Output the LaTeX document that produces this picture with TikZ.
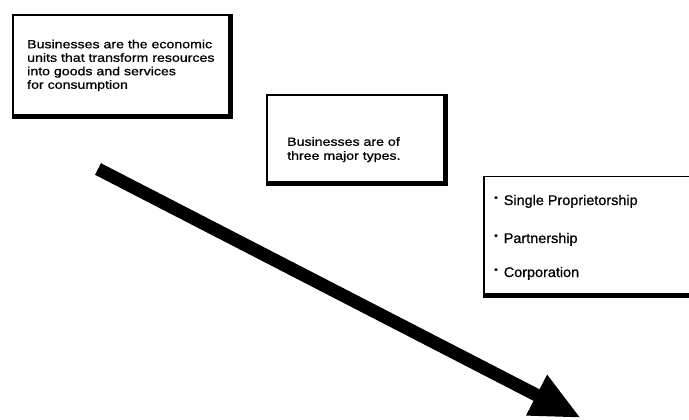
\documentclass[tikz,border=0pt]{standalone}
\usepackage{fontspec}
\setmainfont{Liberation Sans}
\newfontfamily\boxfont[FakeStretch=1.2,FakeBold=0.8]{Liberation Sans}
\newfontfamily\listfont[FakeStretch=1.03,FakeBold=0.8]{Liberation Sans}
\usetikzlibrary{arrows.meta}
\begin{document}
\begin{tikzpicture}[x=1pt,y=-1pt,
  box/.style={draw=black,line width=1.6pt,fill=white,inner sep=0pt},
  shadowline/.style={draw=black,line width=4pt},
  boxtext/.style={inner sep=0pt,align=left,font=\boxfont\fontsize{11.8}{13.5}\selectfont},
  boxtextb/.style={inner sep=0pt,align=left,font=\boxfont\fontsize{11.8}{14}\selectfont},
  item/.style={inner sep=0pt,anchor=base west,font=\listfont\fontsize{14}{16}\selectfont},
  bigarrow/.style={draw=black,line width=13pt,-{Triangle[length=50pt,width=42pt]}}
]
\useasboundingbox (0,0) rectangle (689,420);
\clip (0,0) rectangle (689,420);

% box 1
\node[box,anchor=north west,minimum width=216pt,minimum height=100pt] (b1) at (12,14) {};
\draw[shadowline] ([yshift=-1.5pt]b1.south west) -- ([xshift=1.5pt,yshift=-1.5pt]b1.south east) -- ([xshift=1.5pt]b1.north east);
\node[boxtext,anchor=north west] (t1) at (27,39.5) {Businesses are the economic\\units that transform resources\\into goods and services\\for consumption};

% box 2
\node[box,anchor=north west,minimum width=177pt,minimum height=87pt] (b2) at (266,94) {};
\draw[shadowline] ([yshift=-1.5pt]b2.south west) -- ([xshift=1.5pt,yshift=-1.5pt]b2.south east) -- ([xshift=1.5pt]b2.north east);
\node[boxtextb,anchor=north west] (t2) at (287,137) {Businesses are of\\three major types.};

% box 3
\node[box,anchor=north west,minimum width=217pt,minimum height=117.5pt] (b3) at (483,175.5) {};
\draw[shadowline] ([yshift=-1.5pt]b3.south west) -- ([yshift=-1.5pt]b3.south east);
\node[item] (i1) at (494,205) {{\fontsize{10}{10}\selectfont\raisebox{4pt}{•}}\hspace{6pt}Single Proprietorship};
\node[item] (i2) at (494,243) {{\fontsize{10}{10}\selectfont\raisebox{4pt}{•}}\hspace{6pt}Partnership};
\node[item] (i3) at (494,277) {{\fontsize{10}{10}\selectfont\raisebox{4pt}{•}}\hspace{6pt}Corporation};

% arrow
\coordinate (as) at (98,169);
\coordinate (ae) at (581,418);
\draw[bigarrow] (as) -- (ae);
\end{tikzpicture}
\end{document}
